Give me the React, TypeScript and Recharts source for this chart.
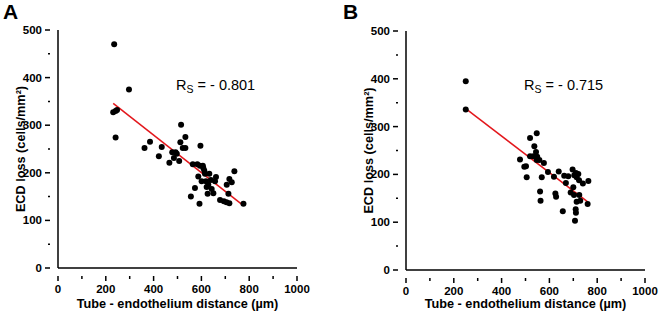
import React from "react";
import { ScatterChart, Scatter, XAxis, YAxis, ReferenceLine, Label } from "recharts";

// panel A: tube-endothelium distance (µm) vs ECD loss (cells/mm²)
const pointsA = [
  [235, 470], [297, 375], [231, 327], [241, 330], [247, 332], [241, 274],
  [362, 252], [385, 265], [422, 235], [434, 254], [466, 221], [478, 243],
  [485, 231], [492, 243], [497, 240], [507, 225], [515, 301], [512, 264],
  [522, 252], [533, 275], [533, 252], [564, 218], [556, 150], [573, 168],
  [583, 218], [596, 257], [592, 135], [594, 215], [587, 192], [601, 182],
  [608, 210], [615, 198], [619, 182], [626, 156], [629, 175], [633, 198],
  [643, 166], [657, 182], [650, 157], [661, 191], [606, 215], [612, 205],
  [622, 170], [640, 185], [678, 143], [694, 140], [705, 138], [717, 136],
  [706, 175], [713, 156], [717, 187], [727, 180], [738, 203], [776, 135],
];
const fitA = [[231, 346], [776, 131]];

// panel B
const pointsB = [
  [250, 395], [250, 336], [477, 231], [495, 216], [502, 217], [505, 194],
  [519, 276], [519, 238], [533, 238], [537, 259], [547, 286], [544, 247],
  [549, 237], [547, 230], [558, 230], [561, 164], [563, 145], [568, 194],
  [577, 224], [594, 205], [619, 195], [625, 160], [628, 153], [639, 206],
  [656, 123], [662, 197], [669, 182], [679, 196], [689, 162], [697, 210],
  [700, 173], [703, 157], [704, 198], [711, 203], [714, 194], [710, 127],
  [711, 120], [707, 103], [714, 143], [721, 201], [724, 188], [725, 157],
  [729, 145], [740, 181], [763, 186], [760, 138],
];
const fitB = [[254, 336], [759, 143]];

const xTicks = [0, 100, 200, 300, 400, 500, 600, 700, 800, 900, 1000];
const yTicks = [0, 50, 100, 150, 200, 250, 300, 350, 400, 450, 500];

const FONT = "'Liberation Sans', Arial, sans-serif";

const XTick = (props: any) => {
  const { x, y, payload } = props;
  const major = payload.value % 200 === 0;
  return (
    <g>
      <line x1={x} x2={x} y1={y} y2={y + (major ? 5 : 3)} stroke="#000" strokeWidth={1.5} />
      {major && (
        <text x={x} y={y + 17} textAnchor="middle" fontSize={11.5} fontWeight="bold" fontFamily={FONT} fill="#000">
          {payload.value}
        </text>
      )}
    </g>
  );
};

const YTick = (props: any) => {
  const { x, y, payload } = props;
  const major = payload.value % 100 === 0;
  return (
    <g>
      <line x1={x} x2={x - (major ? 5 : 2)} y1={y} y2={y} stroke="#000" strokeWidth={1.5} />
      {major && (
        <text x={x - 8} y={y + 4} textAnchor="end" fontSize={11.5} fontWeight="bold" fontFamily={FONT} fill="#000">
          {payload.value}
        </text>
      )}
    </g>
  );
};

const Dot = (props: any) => <circle cx={props.cx} cy={props.cy} r={3} fill="#000" />;

function Panel({ letter, points, fit, rs, margin, yWidth, rsPos }: any) {
  const data = points.map(([x, y]: number[]) => ({ x, y }));
  return (
    <div style={{ position: "relative", width: 330, height: 314 }}>
      <ScatterChart width={330} height={314} margin={margin}>
        <XAxis
          type="number"
          dataKey="x"
          domain={[0, 1000]}
          ticks={xTicks}
          tick={<XTick />}
          tickLine={false}
          axisLine={{ stroke: "#000", strokeWidth: 1.5 }}
          height={margin.bottomAxis}
          interval={0}
        >
          <Label
            value="Tube - endothelium distance (µm)"
            position="insideBottom"
            offset={6}
            style={{ fontSize: 12.7, fontWeight: "bold", fontFamily: FONT, fill: "#000" }}
          />
        </XAxis>
        <YAxis
          type="number"
          dataKey="y"
          domain={[0, 500]}
          ticks={yTicks}
          tick={<YTick />}
          tickLine={false}
          axisLine={{ stroke: "#000", strokeWidth: 1.5 }}
          width={yWidth}
          interval={0}
        >
          <Label
            value="ECD loss (cells/mm²)"
            angle={-90}
            position="insideLeft"
            offset={yWidth - 38}
            style={{ textAnchor: "middle", fontSize: 12.7, fontWeight: "bold", fontFamily: FONT, fill: "#000" }}
          />
        </YAxis>
        <ReferenceLine
          segment={fit.map(([x, y]: number[]) => ({ x, y }))}
          stroke="#e3171c"
          strokeWidth={1.5}
          ifOverflow="visible"
        />
        <Scatter data={data} shape={<Dot />} isAnimationActive={false} />
      </ScatterChart>
      <div
        style={{
          position: "absolute", left: letter === "A" ? 3 : 13, top: 0,
          fontFamily: FONT, fontWeight: "bold", fontSize: 21, lineHeight: "24px",
        }}
      >
        {letter}
      </div>
      <div
        style={{
          position: "absolute", left: rsPos[0], top: rsPos[1],
          fontFamily: FONT, fontSize: 14.5, lineHeight: "16px", whiteSpace: "nowrap",
        }}
      >
        R<sub style={{ fontSize: 10.5, verticalAlign: -3 }}>S</sub> = - {rs}
      </div>
    </div>
  );
}

export default function App() {
  return (
    <div style={{ position: "absolute", left: 0, top: 0, width: 660, height: 314, display: "flex", background: "#fff" }}>
      <Panel
        letter="A"
        points={pointsA}
        fit={fitA}
        rs="0.801"
        yWidth={58}
        margin={{ top: 30, right: 33, bottom: 0, left: 0, bottomAxis: 46 }}
        rsPos={[176, 77]}
      />
      <Panel
        letter="B"
        points={pointsB}
        fit={fitB}
        rs="0.715"
        yWidth={76}
        margin={{ top: 31, right: 15, bottom: 0, left: 0, bottomAxis: 44 }}
        rsPos={[194, 77]}
      />
    </div>
  );
}
